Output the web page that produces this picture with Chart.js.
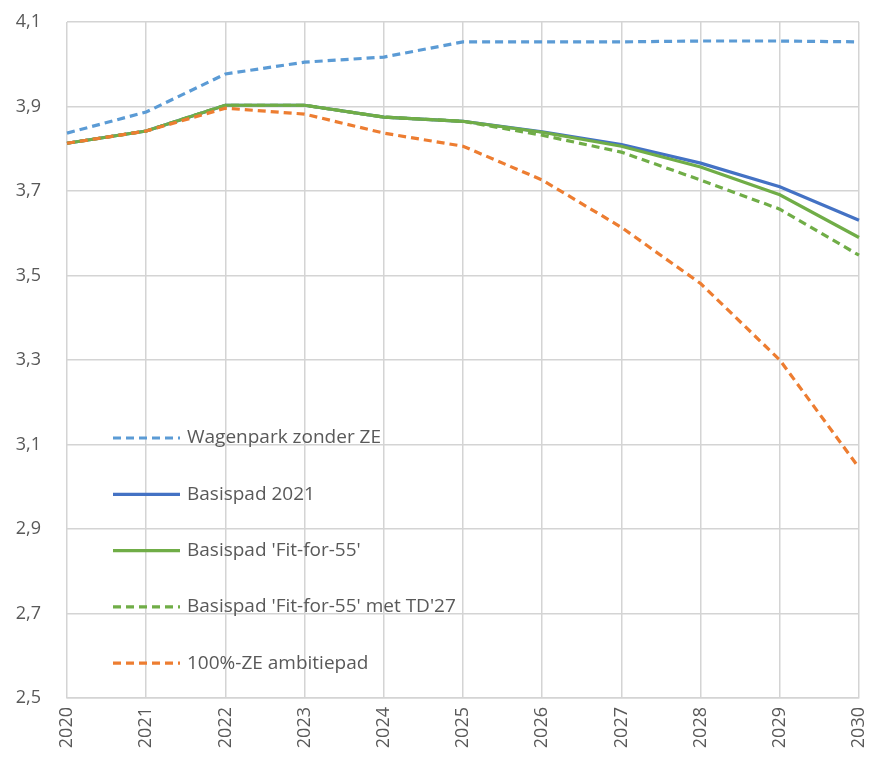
<!DOCTYPE html>
<html>
<head>
<meta charset="utf-8">
<script src="https://cdn.jsdelivr.net/npm/chart.js@4.4.1/dist/chart.umd.min.js"></script>
<style>
  html, body { margin: 0; padding: 0; background: #fff; }
  #wrap { width: 869px; height: 758px; }
</style>
</head>
<body>
<div id="wrap"><canvas id="chart"></canvas></div>
<script>
const years = ["2020", "2021", "2022", "2023", "2024", "2025", "2026", "2027", "2028", "2029", "2030"];

const wagenparkZonderZE = [3.837, 3.887, 3.977, 4.005, 4.017, 4.053, 4.053, 4.053, 4.055, 4.055, 4.053];
const basispad2021 = [3.813, 3.842, 3.903, 3.903, 3.875, 3.865, 3.840, 3.810, 3.766, 3.710, 3.631];
const fitFor55 = [3.813, 3.842, 3.903, 3.903, 3.875, 3.865, 3.839, 3.806, 3.757, 3.691, 3.590];
const fitFor55TD27 = [3.813, 3.842, 3.903, 3.903, 3.875, 3.865, 3.832, 3.792, 3.726, 3.657, 3.548];
const ambitiepad = [3.813, 3.842, 3.896, 3.882, 3.837, 3.806, 3.726, 3.614, 3.481, 3.300, 3.045];

const seriesNames = [
    "Wagenpark zonder ZE",
    "Basispad 2021",
    "Basispad 'Fit-for-55'",
    "Basispad 'Fit-for-55' met TD'27",
    "100%-ZE ambitiepad",
];

const textColor = "#595959";
const gridColor = "#d4d4d4";
const fontFamily = "'Open Sans', sans-serif";

const makeSet = (label, data, color, dashed, order) => ({
    label,
    data,
    borderColor: color,
    backgroundColor: color,
    borderWidth: 3.2,
    borderDash: dashed ? [8, 5] : [],
    pointRadius: 0,
    tension: 0,
    fill: false,
    order,
});

// legend drawn inside the plot, lower left
const innerLegend = {
    id: "innerLegend",
    afterDatasetsDraw(chart) {
        const { ctx, chartArea } = chart;
        const x0 = chartArea.left + 46;
        const y0 = chartArea.bottom - 260;
        const gap = 56.3;
        ctx.save();
        ctx.font = "19px " + fontFamily;
        ctx.textBaseline = "middle";
        chart.data.datasets.forEach((ds, i) => {
            const y = y0 + i * gap;
            ctx.strokeStyle = ds.borderColor;
            ctx.lineWidth = 3.2;
            ctx.setLineDash(ds.borderDash);
            ctx.beginPath();
            ctx.moveTo(x0, y);
            ctx.lineTo(x0 + 67, y);
            ctx.stroke();
            ctx.setLineDash([]);
            ctx.fillStyle = textColor;
            ctx.fillText(ds.label, x0 + 74, y);
        });
        ctx.restore();
    },
};

new Chart(document.getElementById("chart").getContext("2d"), {
    type: "line",
    data: {
        labels: years,
        datasets: [
            makeSet(seriesNames[0], wagenparkZonderZE, "#5b9bd5", true, 5),
            makeSet(seriesNames[1], basispad2021, "#4472c4", false, 4),
            makeSet(seriesNames[2], fitFor55, "#70ad47", false, 3),
            makeSet(seriesNames[3], fitFor55TD27, "#70ad47", true, 2),
            makeSet(seriesNames[4], ambitiepad, "#ed7d31", true, 1),
        ],
    },
    options: {
        responsive: true,
        maintainAspectRatio: false,
        animation: false,
        layout: {
            padding: { top: 22, right: 10, left: 0, bottom: 0 },
        },
        scales: {
            x: {
                offset: false,
                grid: { color: gridColor, lineWidth: 1.5, drawTicks: false },
                border: { color: gridColor, width: 1.5 },
                ticks: {
                    color: textColor,
                    font: { family: fontFamily, size: 18 },
                    minRotation: 90,
                    maxRotation: 90,
                    padding: 9,
                },
                afterFit: (axis) => {
                    axis.height = 60;
                    axis.paddingLeft = 0;
                    axis.paddingRight = 0;
                },
            },
            y: {
                min: 2.5,
                max: 4.1,
                grid: { color: gridColor, lineWidth: 1.5, drawTicks: false },
                border: { display: false },
                ticks: {
                    stepSize: 0.2,
                    color: textColor,
                    font: { family: fontFamily, size: 18 },
                    padding: 26,
                    callback: (v) => v.toFixed(1).replace(".", ","),
                },
                afterFit: (axis) => {
                    axis.width = 67;
                    axis.paddingTop = 0;
                    axis.paddingBottom = 0;
                },
            },
        },
        plugins: {
            legend: { display: false },
            tooltip: { enabled: false },
        },
    },
    plugins: [innerLegend],
});
</script>
</body>
</html>
